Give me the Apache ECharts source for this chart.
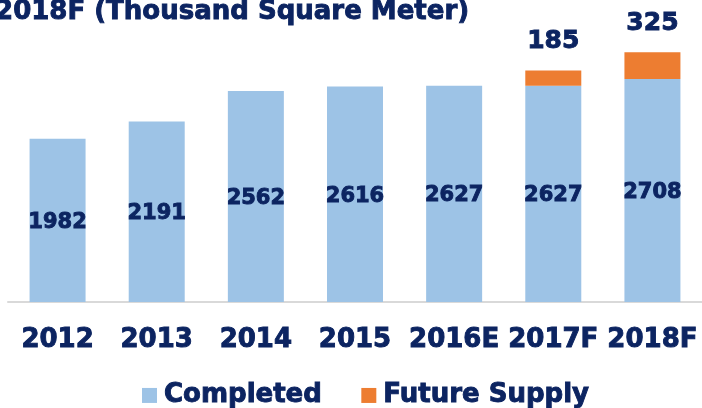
<!DOCTYPE html>
<html>
<head>
<meta charset="utf-8">
<script src="https://cdn.jsdelivr.net/npm/echarts@6/dist/echarts.min.js"></script>
<style>
  html, body { margin: 0; padding: 0; background: #fff; }
  #main { width: 702px; height: 408px; }
</style>
</head>
<body>
<div id="main"></div>
<script>
// years on the x axis
const years = ['2012', '2013', '2014', '2015', '2016E', '2017F', '2018F'];
// completed stock (thousand sq m)
const completed = [1982, 2191, 2562, 2616, 2627, 2627, 2708];
// future supply, only for forecast years
const futureSupply = [null, null, null, null, null, 185, 325];

const navy = '#0c2461';
const font = 'DejaVu Sans';
// fake a heavier bold with a thin outline in the same colour
const heavy = { color: navy, fontFamily: font, fontWeight: 'bold', textBorderColor: navy, textBorderWidth: 0.9 };

const chart = echarts.init(document.getElementById('main'));
chart.setOption({
  animation: false,
  title: {
    text: '2012-2018F (Thousand Square Meter)',
    right: 232,
    top: -1,
    padding: 0,
    textStyle: Object.assign({}, heavy, { fontSize: 26 })
  },
  legend: {
    left: 137,
    top: 377,
    itemWidth: 15,
    itemHeight: 15,
    itemGap: 39,
    icon: 'rect',
    textStyle: Object.assign({}, heavy, { fontSize: 26, padding: [0, 0, 0, 2] }),
    data: ['Completed', 'Future Supply']
  },
  grid: { left: 8, right: 0, top: 22, bottom: 106, containLabel: false },
  xAxis: {
    type: 'category',
    data: years,
    axisLine: { lineStyle: { color: '#d9d9d9', width: 2 } },
    axisTick: { show: false },
    axisLabel: Object.assign({}, heavy, { fontSize: 26, margin: 25, interval: 0 })
  },
  yAxis: {
    type: 'value',
    min: 0,
    max: 3400,
    show: false,
    splitLine: { show: false }
  },
  series: [
    {
      name: 'Completed',
      type: 'bar',
      stack: 'total',
      barWidth: 56,
      data: completed,
      itemStyle: { color: '#9dc3e6' },
      label: Object.assign({}, heavy, {
        show: true,
        position: 'inside',
        offset: [0, 2],
        fontSize: 21
      })
    },
    {
      name: 'Future Supply',
      type: 'bar',
      stack: 'total',
      barWidth: 56,
      data: futureSupply,
      itemStyle: { color: '#ed7d31' },
      label: Object.assign({}, heavy, {
        show: true,
        position: 'top',
        distance: 16,
        fontSize: 25
      })
    }
  ]
});
</script>
</body>
</html>
